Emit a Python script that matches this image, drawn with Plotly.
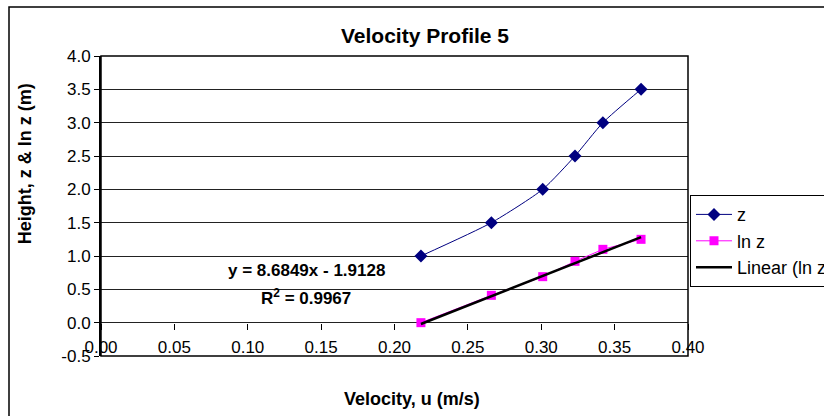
import plotly.graph_objects as go

# ---- data ----
velocity_u = [0.218, 0.266, 0.301, 0.323, 0.342, 0.368]
height_z = [1.0, 1.5, 2.0, 2.5, 3.0, 3.5]
ln_z = [0.0, 0.41, 0.69, 0.92, 1.10, 1.25]
fit_slope = 8.6849
fit_intercept = -1.9128
fit_r2 = 0.9967
x_ticks = [0.0, 0.05, 0.10, 0.15, 0.20, 0.25, 0.30, 0.35, 0.40]
y_ticks = [-0.5, 0.0, 0.5, 1.0, 1.5, 2.0, 2.5, 3.0, 3.5, 4.0]

FONT = "Liberation Sans, Arial, sans-serif"

trend_x = [min(velocity_u), max(velocity_u)]
trend_y = [fit_slope * v + fit_intercept for v in trend_x]

fig = go.Figure()
fig.add_trace(go.Scatter(
    x=velocity_u, y=height_z, name="z", mode="lines+markers",
    line=dict(color="#000080", width=1, shape="spline", smoothing=0.6),
    marker=dict(symbol="diamond", size=10, color="#000080"),
))
fig.add_trace(go.Scatter(
    x=velocity_u, y=ln_z, name="ln z", mode="lines+markers",
    line=dict(color="#FF00FF", width=1),
    marker=dict(symbol="square", size=9, color="#FF00FF"),
))
fig.add_trace(go.Scatter(
    x=trend_x, y=trend_y, name="Linear (ln z)", mode="lines",
    line=dict(color="black", width=2.5),
))

fig.update_layout(
    width=824, height=416,
    margin=dict(l=101, r=136, t=56, b=60, autoexpand=False),
    paper_bgcolor="white", plot_bgcolor="white",
    font=dict(family=FONT, color="black", size=17),
    showlegend=True,
    title=dict(text="<b>Velocity Profile 5</b>", x=425 / 824, xref="container",
               xanchor="center", y=1 - 36 / 416, yref="container", yanchor="middle",
               font=dict(size=21, family=FONT, color="black")),
    legend=dict(x=1.0034, xanchor="left", y=0.536, yanchor="top",
                bgcolor="white", bordercolor="black", borderwidth=1,
                font=dict(size=18, family=FONT, color="black"),
                itemwidth=36, entrywidth=170, entrywidthmode="pixels",
                tracegroupgap=0),
    xaxis=dict(range=[0, 0.4], tickvals=x_ticks,
               ticktext=[f"{v:.2f}" for v in x_ticks],
               anchor="free", position=0.5 / 4.5,
               ticks="outside", ticklen=6, tickcolor="black", tickwidth=1,
               ticklabelstandoff=3,
               showgrid=False, zeroline=False, showline=False,
               tickfont=dict(size=17, family=FONT, color="black")),
    yaxis=dict(range=[-0.5, 4.0], tickvals=y_ticks,
               ticktext=[f"{v:.1f}" for v in y_ticks],
               ticks="outside", ticklen=5, tickcolor="black", tickwidth=1,
               showgrid=True, gridcolor="#222222", gridwidth=1,
               zeroline=False, showline=True, linecolor="black", linewidth=2,
               tickfont=dict(size=17, family=FONT, color="black")),
    shapes=[
        dict(type="rect", xref="paper", yref="paper", x0=0, x1=1, y0=0, y1=1,
             line=dict(color="black", width=1.5), layer="above"),
        dict(type="rect", xref="paper", yref="paper",
             x0=(9 - 101) / 587, x1=1.5, y0=-0.5, y1=(355.7 - 6.7) / 300,
             line=dict(color="black", width=1.5), layer="below"),
    ],
    annotations=[
        dict(text=f"<b>y = {fit_slope}x - {abs(fit_intercept)}</b>", x=0.1397, y=0.787,
             xref="x", yref="y", showarrow=False, font=dict(size=17),
             xanchor="center", yanchor="middle"),
        dict(text=f"<b>R<sup>2</sup> = {fit_r2}</b>", x=0.1397, y=0.387,
             xref="x", yref="y", showarrow=False, font=dict(size=17),
             xanchor="center", yanchor="middle"),
        dict(text="<b>Velocity, u (m/s)</b>", x=(412 - 101) / 587, y=(355.7 - 399) / 300,
             xref="paper", yref="paper", showarrow=False, font=dict(size=18),
             xanchor="center", yanchor="middle"),
        dict(text="<b>Height, z & ln z (m)</b>", x=(25 - 101) / 587, y=(355.7 - 164) / 300,
             xref="paper", yref="paper", showarrow=False, textangle=-90,
             font=dict(size=18), xanchor="center", yanchor="middle"),
    ],
)

fig.write_html("out.html")
